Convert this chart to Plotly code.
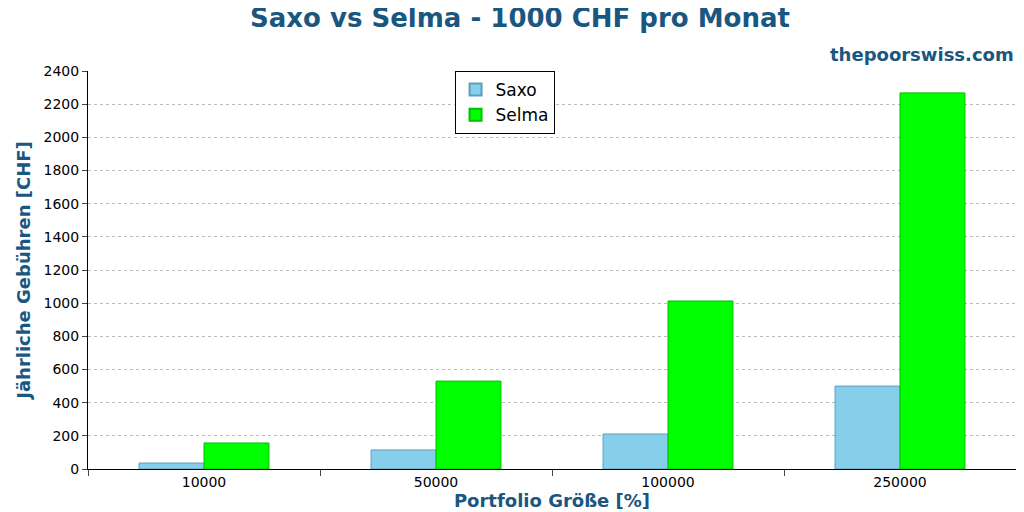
import plotly.graph_objects as go

portfolio = ['10000', '50000', '100000', '250000']
saxo = [36, 115, 211, 500]
selma = [157, 530, 1013, 2268]

fig = go.Figure()
fig.add_trace(go.Bar(x=portfolio, y=saxo, name='Saxo', marker_color='#87ceeb',
                     marker_line=dict(color='#5aa0bd', width=1)))
fig.add_trace(go.Bar(x=portfolio, y=selma, name='Selma', marker_color='#00ff00',
                     marker_line=dict(color='#00c000', width=1)))

blue = '#1a5780'
fig.update_layout(
    width=1024, height=512,
    plot_bgcolor='white', paper_bgcolor='white',
    font=dict(family='DejaVu Sans', size=14, color='black'),
    title=dict(text='<b>Saxo vs Selma - 1000 CHF pro Monat</b>', x=0.5, y=0.998, yanchor='top',
               font=dict(size=26, color=blue)),
    margin=dict(l=80, r=16, t=63, b=51),
    bargap=0.44, bargroupgap=0,
    legend=dict(x=0.395, y=1.0, xanchor='left', yanchor='top',
                bordercolor='black', borderwidth=1, font=dict(size=17),
                tracegroupgap=0, itemsizing='constant'),
    annotations=[dict(text='<b>thepoorswiss.com</b>', xref='paper', yref='paper',
                      x=1.0, y=1.01, xanchor='right', yanchor='bottom', showarrow=False,
                      font=dict(size=18, color=blue))],
)
fig.update_xaxes(title=dict(text='<b>Portfolio Größe [%]</b>', font=dict(size=18, color=blue), standoff=2),
                 tickson='boundaries', ticks='outside', ticklen=6, showline=True,
                 linecolor='black', showgrid=False, automargin=False)
fig.update_yaxes(title=dict(text='<b>Jährliche Gebühren [CHF]</b>', font=dict(size=18, color=blue), standoff=8),
                 range=[0, 2400], dtick=200, ticks='outside', ticklen=5, showline=True,
                 linecolor='black', gridcolor='#bbbbbb', griddash='dot', gridwidth=1,
                 zeroline=False, automargin=False)

fig.write_html('out.html')
